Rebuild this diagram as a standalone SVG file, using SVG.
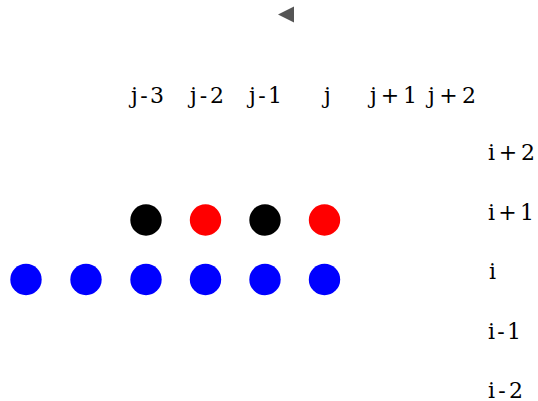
<svg xmlns="http://www.w3.org/2000/svg" width="538" height="401" viewBox="0 0 538 401">
<style>
text{font-family:"DejaVu Serif","Liberation Serif",serif;font-size:22px;fill:#000}
.b{fill:#0000ff}.r{fill:#ff0000}.k{fill:#000}
</style>
<rect width="538" height="401" fill="#fff"/>
<g id="arrow"><polygon points="278,14.5 294,6.5 294,22.5" fill="#555"/></g>
<g id="col-labels">
<text x="131" y="103" textLength="33">j-3</text>
<text x="190" y="103" textLength="34">j-2</text>
<text x="249" y="103" textLength="33">j-1</text>
<text x="324" y="103">j</text>
<text x="370" y="103" textLength="47">j+1</text>
<text x="428" y="103" textLength="48">j+2</text>
</g>
<g id="row-labels">
<text x="488" y="160" textLength="47">i+2</text>
<text x="488" y="219.5" textLength="46">i+1</text>
<text x="489" y="279">i</text>
<text x="488" y="338.5" textLength="33">i-1</text>
<text x="488" y="397.5" textLength="35">i-2</text>
</g>
<g id="row-i1">
<circle id="n1" class="k" cx="146" cy="220" r="15.7"/>
<circle id="n2" class="r" cx="205.5" cy="220" r="15.7"/>
<circle id="n3" class="k" cx="265" cy="220" r="15.7"/>
<circle id="n4" class="r" cx="324.5" cy="220" r="15.7"/>
</g>
<g id="row-i">
<circle id="b1" class="b" cx="26" cy="279.5" r="15.7"/>
<circle id="b2" class="b" cx="86" cy="279.5" r="15.7"/>
<circle id="b3" class="b" cx="146" cy="279.5" r="15.7"/>
<circle id="b4" class="b" cx="205.5" cy="279.5" r="15.7"/>
<circle id="b5" class="b" cx="265" cy="279.5" r="15.7"/>
<circle id="b6" class="b" cx="324.5" cy="279.5" r="15.7"/>
</g>
<g id="connectors"></g>
</svg>
